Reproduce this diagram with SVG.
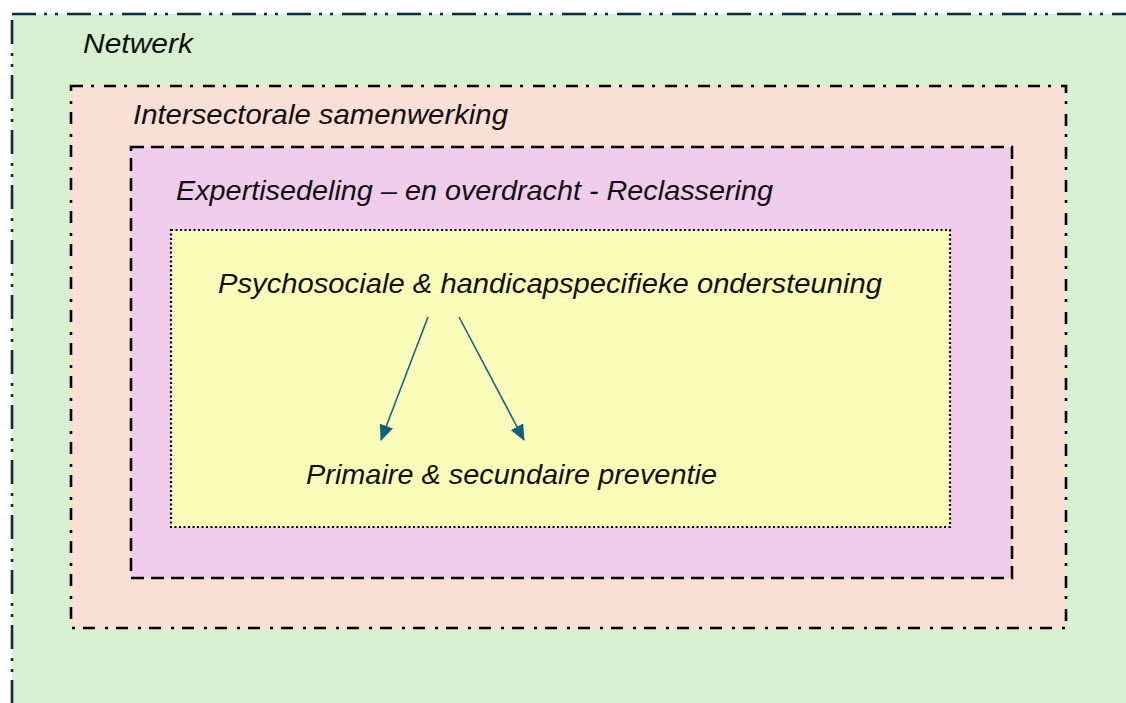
<svg xmlns="http://www.w3.org/2000/svg" width="1126" height="703" viewBox="0 0 1126 703">
<style>
.lbl{font-family:"Liberation Sans",Arial,sans-serif;font-style:italic;font-size:28px;fill:#111}
.conn{stroke:#1a6283;stroke-width:1.6;fill:none}
</style>
<defs>
<marker id="ah2" viewBox="0 0 16 14" refX="15" refY="7" markerWidth="16" markerHeight="14" markerUnits="userSpaceOnUse" orient="auto">
<path d="M0,0 L16,7 L0,14 z" fill="#12607f"/>
</marker>
</defs>
<rect width="1126" height="703" fill="#ffffff"/>
<g id="netwerk">
<rect x="12" y="14" width="1130" height="700" fill="#d7f0cf" stroke="#0b2a3c" stroke-width="2.6" stroke-dasharray="24 8 3 8 3 9"/>
<text class="lbl" x="83" y="53" textLength="110" lengthAdjust="spacingAndGlyphs">Netwerk</text>
</g>
<g id="intersectoraal">
<rect x="71" y="86" width="995" height="542" fill="#f9dfd6" stroke="#000" stroke-width="2.6" stroke-dasharray="12 8 3 10"/>
<text class="lbl" x="133" y="124" textLength="375" lengthAdjust="spacingAndGlyphs">Intersectorale samenwerking</text>
</g>
<g id="expertise">
<rect x="131" y="147" width="881" height="431" fill="#f0cdec" stroke="#000" stroke-width="2.6" stroke-dasharray="13 7"/>
<text class="lbl" x="176" y="200" textLength="597" lengthAdjust="spacingAndGlyphs">Expertisedeling – en overdracht - Reclassering</text>
</g>
<g id="psychosociaal">
<rect x="171" y="230" width="779" height="297" fill="#fafdb9" stroke="#000" stroke-width="2.2" stroke-dasharray="2 2.5"/>
<text class="lbl" x="218" y="293" textLength="664" lengthAdjust="spacingAndGlyphs">Psychosociale &amp; handicapspecifieke ondersteuning</text>
</g>
<g id="preventie">
<text class="lbl" x="306" y="484" textLength="411" lengthAdjust="spacingAndGlyphs">Primaire &amp; secundaire preventie</text>
</g>
<g id="connectors">
<path class="conn" d="M428,317 L381,440" marker-end="url(#ah2)"/>
<path class="conn" d="M459,317 L524,440" marker-end="url(#ah2)"/>
</g>
</svg>
